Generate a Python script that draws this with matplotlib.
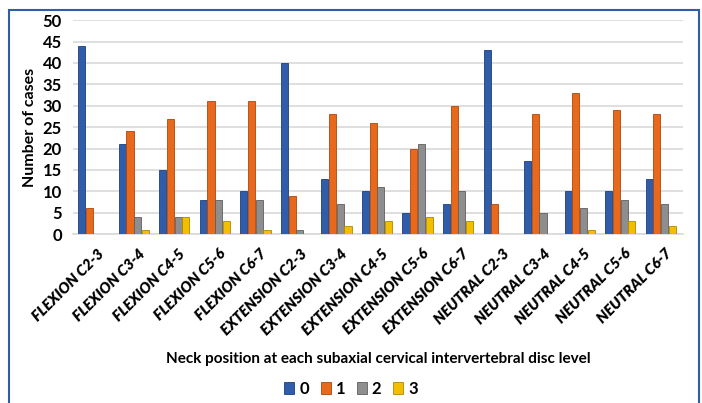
import numpy as np
import matplotlib.pyplot as plt
from matplotlib.patches import Rectangle

plt.rcParams['font.family'] = ['Lato', 'DejaVu Sans']

# data
categories = ['FLEXION C2-3', 'FLEXION C3-4', 'FLEXION C4-5', 'FLEXION C5-6', 'FLEXION C6-7',
              'EXTENSION C2-3', 'EXTENSION C3-4', 'EXTENSION C4-5', 'EXTENSION C5-6', 'EXTENSION C6-7',
              'NEUTRAL C2-3', 'NEUTRAL C3-4', 'NEUTRAL C4-5', 'NEUTRAL C5-6', 'NEUTRAL C6-7']
grade_0 = [44, 21, 15, 8, 10, 40, 13, 10, 5, 7, 43, 17, 10, 10, 13]
grade_1 = [6, 24, 27, 31, 31, 9, 28, 26, 20, 30, 7, 28, 33, 29, 28]
grade_2 = [0, 4, 4, 8, 8, 1, 7, 11, 21, 10, 0, 5, 6, 8, 7]
grade_3 = [0, 1, 4, 3, 1, 0, 2, 3, 4, 3, 0, 0, 1, 3, 2]
series_labels = ['0', '1', '2', '3']

colors = ['#2F5DAA', '#E8691C', '#8E8E8E', '#F2BE00']
edges = ['#1F3F7A', '#A9470F', '#5E5E5E', '#B08800']

fig = plt.figure(figsize=(7.02, 4.03), dpi=100)
ax = fig.add_axes([0.104, 0.419, 0.869, 0.531])

x = np.arange(len(categories))
w = 0.19
all_series = [grade_0, grade_1, grade_2, grade_3]
for i, vals in enumerate(all_series):
    ax.bar(x + (i - 1.5) * w, vals, width=w * 0.92, color=colors[i],
           edgecolor=edges[i], linewidth=0.6, label=series_labels[i], zorder=3)

ax.set_ylim(0, 50)
ax.set_yticks(range(0, 51, 5))
ax.set_xlim(-0.5, len(categories) - 0.45)
ax.yaxis.grid(True, color='#D9D9D9', linewidth=1.2, zorder=0)
for s in ['top', 'right', 'left']:
    ax.spines[s].set_visible(False)
ax.spines['bottom'].set_color('#D9D9D9')
ax.spines['bottom'].set_linewidth(1.2)
ax.tick_params(axis='both', length=0)
ax.tick_params(axis='y', labelsize=12, pad=8)
ax.tick_params(axis='x', pad=9)
for lab in ax.get_yticklabels():
    lab.set_fontweight('bold')

ax.set_xticks(x + 0.1)
ax.set_xticklabels(categories, rotation=45, ha='right', rotation_mode='anchor',
                   fontsize=10.8, fontweight='heavy', fontstyle='italic')
ax.set_ylabel('Number of cases', fontsize=11.5, fontweight='bold', labelpad=4)
ax.set_xlabel('Neck position at each subaxial cervical intervertebral disc level',
              fontsize=11, fontweight='bold', labelpad=11)

fig.legend(loc='lower center', bbox_to_anchor=(0.5, -0.022), ncol=4, frameon=False,
           prop={'weight': 'bold', 'size': 12}, handlelength=0.6,
           handleheight=0.7, handletextpad=0.3, columnspacing=0.7)

# blue frame around the figure
fig.patches.append(Rectangle((0.013, -0.01), 0.983, 0.985, transform=fig.transFigure,
                             fill=False, edgecolor='#2F5DAA', linewidth=1.5))

fig.savefig('out.png', dpi=100)
